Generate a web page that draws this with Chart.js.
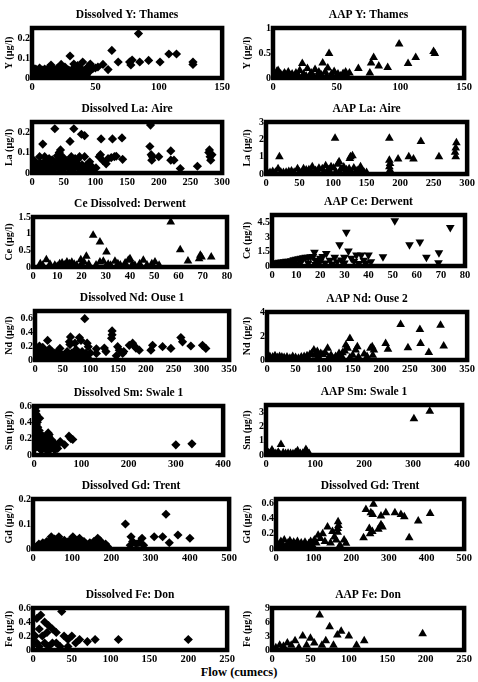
<!DOCTYPE html>
<html>
<head>
<meta charset="utf-8">
<script src="https://cdn.jsdelivr.net/npm/chart.js@4.4.0/dist/chart.umd.min.js"></script>
<style>
  body { margin: 0; background: #fff; width: 478px; height: 682px; position: relative; overflow: hidden; }
  canvas { position: absolute; }
  #flow { position: absolute; left: 0; width: 478px; top: 665px; text-align: center;
          font: bold 12.5px 'Liberation Serif', 'Times New Roman', serif; color: #000; }
</style>
</head>
<body>
<div id="flow">Flow (cumecs)</div>
<script>
const FONT = "'Liberation Serif', 'Times New Roman', serif";

// [flow, concentration] pairs
const disY = [[84,0.222],[30,0.11],[63,0.138],[108,0.12],[114,0.12],[92,0.088],[101,0.08],[77,0.08],[79,0.09],[78,0.065],[68,0.08],[85,0.08],[127,0.08],[127,0.068],[56,0.068],[60,0.042],[40,0.08],[44,0.055],[48,0.048],[36,0.062],[38,0.05],[15,0.065],[23,0.068],[33,0.07],[46,0.07],[26,0.055],
  [1,0.05],[2,0.03],[3,0.045],[4,0.02],[5,0.035],[6,0.05],[7,0.025],[8,0.04],[9,0.015],[10,0.045],[11,0.03],[12,0.02],[13,0.05],[14,0.035],[16,0.025],[17,0.045],[18,0.015],[19,0.035],[20,0.05],[21,0.025],[22,0.04],[24,0.02],[25,0.045],[27,0.03],[28,0.015],[29,0.04],[31,0.025],[32,0.045],[34,0.02],[35,0.035],[37,0.03],[39,0.045],[41,0.025],[42,0.04],[43,0.015],[45,0.03],[1,0.01],[3,0.005],[5,0.012],[8,0.008],[11,0.005],[15,0.01],[20,0.01],[25,0.008],[30,0.012],[35,0.01],[40,0.01],[2,0.02],[6,0.015],[50,0.05],[52,0.055]];
const aapY = [[99,0.68],[126,0.53],[127,0.49],[112,0.41],[106,0.29],[79,0.41],[77,0.3],[83,0.24],[90,0.21],[67,0.19],[76,0.1],[44,0.49],[39,0.3],[23,0.29],[27,0.19],[33,0.17],[43,0.2],[41,0.12],[57,0.12],[55,0.09],[51,0.08],[60,0.1],[36,0.12],[30,0.1],[21,0.15],[18,0.1],[15,0.08],[12,0.12],[9,0.1],[6,0.08],[3,0.13],[1,0.1],[24,0.08],[46,0.08],[48,0.13],
  [2,0.05],[5,0.03],[8,0.06],[11,0.04],[14,0.05],[17,0.03],[20,0.05],[26,0.04],[29,0.06],[32,0.03],[35,0.05],[38,0.06],[42,0.04],[45,0.03],[50,0.05],[53,0.04],[58,0.05],[4,0.15],[10,0.07]];
const disLa = [[187,0.235],[186,0.13],[188,0.09],[190,0.08],[189,0.063],[200,0.08],[219,0.108],[219,0.063],[224,0.063],[234,0.022],[261,0.033],[280,0.113],[281,0.08],[282,0.063],[284,0.09],[279,0.1],[36,0.217],[66,0.217],[60,0.155],[78,0.19],[83,0.183],[109,0.167],[127,0.167],[142,0.172],[17,0.142],[45,0.113],[43,0.1],[106,0.08],[108,0.09],[112,0.06],[117,0.045],[130,0.08],[133,0.082],[143,0.067],[75,0.08],[83,0.08],[91,0.055],[62,0.08],[12,0.08],[101,0.025],[20,0.08],[40,0.085],[48,0.08],[55,0.06],[68,0.07],[88,0.04],[95,0.03],[120,0.07],[125,0.075],
  [2,0.02],[5,0.04],[8,0.01],[10,0.03],[13,0.05],[15,0.02],[18,0.04],[21,0.06],[23,0.03],[25,0.01],[28,0.05],[30,0.03],[32,0.065],[35,0.02],[38,0.045],[41,0.03],[44,0.06],[46,0.015],[49,0.04],[52,0.025],[55,0.05],[58,0.035],[61,0.015],[64,0.045],[67,0.025],[70,0.05],[73,0.03],[76,0.015],[79,0.04],[82,0.02],[85,0.035],[90,0.015],[95,0.01],[4,0.06],[27,0.07],[36,0.055],[50,0.065],[60,0.06],[72,0.065]];
const aapLa = [[103,2.06],[184,2.06],[231,1.87],[20,1.0],[126,1.0],[125,0.9],[129,1.05],[213,1.0],[220,0.87],[197,0.87],[184,0.8],[185,0.6],[184,0.42],[185,0.23],[258,1.0],[284,1.8],[283,1.5],[282,1.25],[283,1.0],[60,0.23],[69,0.42],[79,0.33],[89,0.48],[97,0.42],[107,0.56],[109,0.7],[116,0.4],[124,0.3],[131,0.35],[141,0.42],[141,0.25],[18,0.3],[47,0.3],[38,0.18],[56,0.3],[64,0.25],[74,0.2],[84,0.3],[93,0.25],[101,0.35],[112,0.3],[120,0.25],[136,0.2],
  [2,0.1],[6,0.08],[10,0.15],[14,0.1],[22,0.12],[26,0.08],[30,0.1],[34,0.14],[42,0.1],[50,0.12],[54,0.08],[62,0.1],[68,0.12],[72,0.08],[78,0.1],[86,0.12],[90,0.08],[96,0.1],[104,0.12],[110,0.1],[118,0.12],[128,0.1],[134,0.12],[140,0.1],[146,0.12],[150,0.08]];
const disCe = [[56.8,1.35],[24.8,0.95],[27.6,0.75],[30.3,0.45],[60.7,0.52],[69,0.35],[69.5,0.3],[68.5,0.25],[73.5,0.3],[63.9,0.18],[22,0.32],[5.5,0.22],[19.7,0.22],[39.3,0.2],[40,0.25],[45.5,0.2],[50.3,0.15],[33.8,0.17],[27.6,0.15],[29,0.17],
  [3,0.1],[4,0.05],[7,0.08],[9,0.05],[11,0.1],[12,0.12],[13,0.06],[14,0.15],[15,0.1],[16,0.14],[17,0.08],[18,0.05],[20,0.1],[21,0.15],[23,0.08],[26,0.06],[31,0.08],[32,0.05],[35,0.1],[36,0.06],[38,0.12],[41,0.08],[42,0.05],[44,0.1],[47,0.06],[49,0.1],[52,0.05],[10,0.02],[30,0.02]];
const aapCe = [[50.9,4.7],[73.9,4.0],[30.8,3.5],[28,2.2],[57,2.2],[61.3,2.5],[69.2,1.38],[31.7,1.55],[35,1.14],[37,1.14],[40,1.14],[46,0.97],[64,0.9],[69,0.35],[17.6,1.42],[22.5,1.31],[28.7,0.62],[32.9,0.8],[41,0.45],[20,0.8],[24,0.6],[21,1.0],[26,0.9],[30,0.9],[34,0.5],[38,0.6],
  [1,0.3],[2,0.35],[3,0.4],[4,0.42],[5,0.45],[6,0.5],[7,0.5],[8,0.55],[9,0.65],[10,0.7],[11,0.75],[12,0.8],[13,0.85],[14,0.9],[15,0.9],[16,0.95],[17,1.0],[18,0.6],[19,0.4],[12,0.4],[8,0.2],[15,0.3],[22,0.3],[25,0.2],[27,0.45],[30,0.3],[36,0.25],[39,0.3],[5,0.15],[10,0.2],[18,0.15],[20,0.5]];
const disNd = [[89.7,0.59],[139,0.415],[139,0.36],[138,0.31],[22.7,0.28],[64,0.33],[62,0.26],[63,0.22],[80,0.32],[83,0.28],[72,0.24],[94,0.24],[96,0.19],[110.7,0.16],[110.7,0.094],[125,0.17],[128,0.12],[149,0.19],[152,0.14],[170,0.21],[176,0.24],[179,0.2],[182,0.17],[188,0.14],[209,0.14],[212,0.21],[230,0.19],[245,0.165],[263,0.32],[266,0.26],[281,0.2],[302,0.21],[308,0.165],[45,0.165],[146.6,0.06],[158,0.094],[160,0.12],[100,0.1],
  [2,0.05],[4,0.15],[6,0.1],[8,0.2],[10,0.05],[12,0.12],[14,0.18],[16,0.08],[18,0.14],[20,0.02],[24,0.1],[26,0.16],[28,0.06],[30,0.12],[33,0.02],[36,0.1],[39,0.05],[42,0.12],[48,0.08],[52,0.02],[55,0.06],[58,0.12],[62,0.05],[66,0.1],[70,0.04],[74,0.15],[78,0.08],[82,0.02],[85,0.12],[88,0.05],[92,0.1],[95,0.03],[5,0.02],[15,0.02],[30,0.03],[45,0.04],[60,0.02]];
const aapNd = [[233.7,2.95],[267.4,2.54],[303.5,2.9],[268.6,1.38],[309,1.16],[246.5,1.02],[283,0.63],[207.5,1.38],[211.6,0.9],[184,1.1],[181,0.97],[187,0.83],[185,0.4],[145,1.8],[138,1.24],[141,0.97],[136,0.74],[158,1.1],[155,0.83],[106,0.97],[82,0.83],[88,0.7],[94,0.55],[126,0.55],[132,0.6],[150,0.4],[112,0.4],[120,0.3],[170,0.5],
  [2,0.2],[5,0.3],[10,0.25],[14,0.35],[18,0.2],[22,0.3],[26,0.25],[30,0.2],[35,0.25],[40,0.15],[45,0.3],[50,0.2],[55,0.15],[60,0.25],[65,0.3],[70,0.35],[75,0.45],[78,0.55],[85,0.4],[90,0.3],[98,0.45],[102,0.6],[108,0.2],[115,0.15],[125,0.2],[130,0.35],[145,0.2],[160,0.25],[175,0.3]];
const disSm = [[300,0.124],[334,0.137],
  [3,0.58],[4,0.54],[5,0.5],[6,0.46],[4,0.42],[7,0.4],[5,0.37],[8,0.34],[3,0.31],[9,0.28],[6,0.25],[10,0.22],[4,0.2],[8,0.17],[12,0.45],[11,0.3],[2,0.14],[6,0.1],[10,0.12],[14,0.25],
  [30,0.27],[32,0.25],[31,0.23],[19,0.23],[26,0.19],[55.5,0.165],[64.7,0.124],[74,0.23],[78,0.2],[82,0.19],[47,0.1],[36.5,0.083],
  [15,0.15],[18,0.1],[20,0.18],[22,0.12],[24,0.08],[27,0.14],[29,0.1],[33,0.16],[35,0.12],[38,0.18],[40,0.1],[42,0.14],[44,0.06],[46,0.12],[50,0.08],[16,0.06],[12,0.08],[28,0.05],[34,0.07]];
const aapSm = [[334,3.07],[301.7,2.54],[30.5,0.74],[12.2,0.35],[64.4,0.3],[81.4,0.39],[84,0.2],[5,0.15],[8,0.1],[15,0.15],[20,0.1],[25,0.2],[35,0.15],[40,0.1],[45,0.12],[50,0.1],[55,0.08],[60,0.15],[70,0.1],[75,0.12],[88,0.1],[10,0.05],[28,0.05],[2,0.1]];
const disGd = [[339,0.139],[235.6,0.1],[250,0.049],[278,0.043],[309,0.049],[330.5,0.049],[369.5,0.056],[347.5,0.025],[400,0.043],[254,0.03],[263,0.02],[248,0.015],[270,0.025],[282,0.015],[46.6,0.049],[66,0.049],[101.7,0.049],[118.6,0.043],[165,0.043],[170,0.035],
  [10,0.01],[15,0.02],[20,0.015],[25,0.025],[30,0.01],[35,0.03],[40,0.02],[45,0.035],[50,0.015],[55,0.04],[60,0.025],[65,0.01],[70,0.03],[75,0.02],[80,0.035],[85,0.015],[90,0.03],[95,0.02],[100,0.04],[105,0.01],[110,0.03],[115,0.02],[120,0.035],[125,0.015],[130,0.03],[135,0.02],[140,0.01],[145,0.025],[150,0.015],[155,0.03],[160,0.02],[165,0.01],[175,0.025],[180,0.015],[185,0.02],[190,0.01]];
const aapGd = [[259,0.59],[239,0.52],[252,0.48],[257,0.456],[279,0.434],[292,0.478],[316,0.478],[332,0.456],[341,0.425],[378,0.368],[409.7,0.469],[354,0.149],[232.7,0.149],[248,0.27],[256,0.23],[250,0.2],[279,0.32],[283,0.29],[272,0.26],[165,0.36],[166,0.31],[164,0.27],[164,0.22],[181,0.12],[186,0.075],[137,0.29],[150,0.23],[155,0.16],[124,0.2],[112,0.18],[118,0.14],[130,0.1],[145,0.08],[160,0.12],[170,0.05],
  [3,0.02],[8,0.06],[13,0.1],[18,0.05],[22,0.12],[27,0.03],[32,0.08],[37,0.11],[42,0.04],[47,0.09],[52,0.06],[57,0.1],[62,0.03],[67,0.08],[72,0.05],[77,0.09],[82,0.04],[87,0.07],[92,0.1],[97,0.05],[102,0.12],[107,0.08],[15,0.02],[35,0.01],[55,0.02],[75,0.01],[95,0.02]];
const disFe = [[37,0.55],[5,0.45],[10,0.5],[15,0.4],[20,0.35],[8,0.3],[25,0.3],[30,0.25],[12,0.2],[18,0.25],[3,0.2],[40,0.2],[45,0.15],[50,0.2],[55,0.1],[60,0.15],[70,0.12],[80,0.15],[110,0.15],[200,0.15],[5,0.1],[15,0.1],[25,0.1],[35,0.05],[8,0.05],[20,0.05],[30,0.1],[45,0.05]];
const aapFe = [[62,7.5],[75,5],[85,3.2],[90,4],[100,3],[120,2],[196,3.5],[40,3],[30,2],[20,1.5],[10,1],[50,2.5],[5,0.5],[15,0.8],[25,1],[35,0.5],[45,1],[55,1.5],[65,1],[70,2],[80,1],[110,1]];

// tick labels
const ticks150 = [0, 50, 100, 150];
const ticks300 = [0, 50, 100, 150, 200, 250, 300];
const ticks80 = [0, 10, 20, 30, 40, 50, 60, 70, 80];
const ticks350 = [0, 50, 100, 150, 200, 250, 300, 350];
const ticks400 = [0, 100, 200, 300, 400];
const ticks500 = [0, 100, 200, 300, 400, 500];
const ticks250 = [0, 50, 100, 150, 200, 250];

const TITLE_H = 20;
const XAXIS_H = 16;
const PAD_R = 10;

// col = left edge of the panel column, box = [left, right, top, bottom] of the plot frame
const panels = [
  { title: 'Dissolved Y: Thames', yLabel: 'Y (µg/l)', pts: disY, shape: 'rectRot', xMax: 150, xTicks: ticks150, yMax: 0.25, yTicks: [0, 0.1, 0.2], col: 0, box: [32, 223, 28, 78] },
  { title: 'AAP Y: Thames', yLabel: 'Y (µg/l)', pts: aapY, shape: 'triangle', xMax: 150, xTicks: ticks150, yMax: 1, yTicks: [0, 0.5, 1], col: 238, box: [273, 465, 28, 78] },
  { title: 'Dissolved La: Aire', yLabel: 'La (µg/l)', pts: disLa, shape: 'rectRot', xMax: 300, xTicks: ticks300, yMax: 0.25, yTicks: [0, 0.1, 0.2], col: 0, box: [32, 223, 122, 173] },
  { title: 'AAP La: Aire', yLabel: 'La (µg/l)', pts: aapLa, shape: 'triangle', xMax: 300, xTicks: ticks300, yMax: 3, yTicks: [0, 1, 2, 3], col: 238, box: [266, 468, 122, 174] },
  { title: 'Ce Dissolved: Derwent', yLabel: 'Ce (µg/l)', pts: disCe, shape: 'triangle', xMax: 80, xTicks: ticks80, yMax: 1.5, yTicks: [0, 0.5, 1, 1.5], col: 0, box: [33, 227, 217, 267] },
  { title: 'AAP Ce: Derwent', yLabel: 'Ce (µg/l)', pts: aapCe, shape: 'triangle', rot: 180, xMax: 80, xTicks: ticks80, yMax: 5.3, yTicks: [0, 1.5, 3, 4.5], col: 238, box: [272, 465, 215, 266] },
  { title: 'Dissolved Nd: Ouse 1', yLabel: 'Nd (µg/l)', pts: disNd, shape: 'rectRot', xMax: 350, xTicks: ticks350, yMax: 0.7, yTicks: [0, 0.2, 0.4, 0.6], col: 0, box: [35, 230, 311, 360] },
  { title: 'AAP Nd: Ouse 2', yLabel: 'Nd (µg/l)', pts: aapNd, shape: 'triangle', xMax: 350, xTicks: ticks350, yMax: 4, yTicks: [0, 2, 4], col: 238, box: [267, 468, 312, 360] },
  { title: 'Dissolved Sm: Swale 1', yLabel: 'Sm (µg/l)', pts: disSm, shape: 'rectRot', xMax: 400, xTicks: ticks400, yMax: 0.6, yTicks: [0, 0.2, 0.4, 0.6], col: 0, box: [34, 224, 406, 455] },
  { title: 'AAP Sm: Swale 1', yLabel: 'Sm (µg/l)', pts: aapSm, shape: 'triangle', xMax: 400, xTicks: ticks400, yMax: 3.5, yTicks: [0, 1, 2, 3], col: 238, box: [266, 463, 405, 455] },
  { title: 'Dissolved Gd: Trent', yLabel: 'Gd (µg/l)', pts: disGd, shape: 'rectRot', xMax: 500, xTicks: ticks500, yMax: 0.2, yTicks: [0, 0.1, 0.2], col: 0, box: [33, 230, 499, 549] },
  { title: 'Dissolved Gd: Trent', yLabel: 'Gd (µg/l)', pts: aapGd, shape: 'triangle', xMax: 500, xTicks: ticks500, yMax: 0.66, yTicks: [0, 0.2, 0.4, 0.6], col: 238, box: [276, 465, 499, 549] },
  { title: 'Dissolved Fe: Don', yLabel: 'Fe (µg/l)', pts: disFe, shape: 'rectRot', xMax: 250, xTicks: ticks250, yMax: 0.6, yTicks: [0, 0.2, 0.4, 0.6], col: 0, box: [33, 228, 608, 650] },
  { title: 'AAP Fe: Don', yLabel: 'Fe (µg/l)', pts: aapFe, shape: 'triangle', xMax: 250, xTicks: ticks250, yMax: 9, yTicks: [0, 3, 6, 9], col: 238, box: [272, 465, 608, 650] }
];

const framePlugin = {
  id: 'frame',
  afterDatasetsDraw(chart) {
    const { ctx, chartArea: a } = chart;
    ctx.save();
    ctx.strokeStyle = '#000';
    ctx.lineWidth = 4.5;
    ctx.strokeRect(a.left, a.top, a.right - a.left, a.bottom - a.top);
    ctx.restore();
  }
};

const titlePlugin = {
  id: 'panelTitle',
  afterDraw(chart, args, opts) {
    const { ctx, chartArea: a } = chart;
    ctx.save();
    ctx.font = `bold 11.5px ${FONT}`;
    ctx.fillStyle = '#000';
    ctx.textAlign = 'center';
    ctx.textBaseline = 'middle';
    ctx.fillText(opts.text, (a.left + a.right) / 2, a.top - 13);
    ctx.restore();
  }
};

const plainLabel = (v) => String(v);

function makePanel(p) {
  const canvas = document.createElement('canvas');
  canvas.width = p.box[1] + PAD_R - p.col;
  canvas.height = TITLE_H + (p.box[3] - p.box[2]) + XAXIS_H;
  canvas.style.left = p.col + 'px';
  canvas.style.top = (p.box[2] - TITLE_H) + 'px';
  document.body.appendChild(canvas);

  new Chart(canvas, {
    type: 'scatter',
    data: {
      datasets: [{
        data: p.pts.map(([x, y]) => ({ x, y })),
        pointStyle: p.shape,
        rotation: p.rot || 0,
        pointRadius: p.shape === 'rectRot' ? 4.6 : 5,
        backgroundColor: '#000',
        borderColor: '#000',
        borderWidth: 0
      }]
    },
    options: {
      responsive: false,
      animation: false,
      devicePixelRatio: 1,
      layout: { padding: { top: TITLE_H, right: PAD_R, left: 0, bottom: 0 } },
      plugins: { legend: { display: false }, tooltip: { enabled: false }, panelTitle: { text: p.title } },
      scales: {
        x: {
          type: 'linear', min: 0, max: p.xMax,
          afterBuildTicks: (s) => { s.ticks = p.xTicks.map((v) => ({ value: v })); },
          afterFit: (s) => { s.height = XAXIS_H; },
          grid: { display: false, drawTicks: false },
          border: { display: false },
          ticks: { color: '#000', padding: 3, maxRotation: 0, autoSkip: false, callback: plainLabel, font: { family: FONT, size: 10.5, weight: 'bold' } }
        },
        y: {
          type: 'linear', min: 0, max: p.yMax,
          afterBuildTicks: (s) => { s.ticks = p.yTicks.map((v) => ({ value: v })); },
          afterFit: (s) => { s.width = p.box[0] - p.col; },
          grid: { display: false, drawTicks: false },
          border: { display: false },
          ticks: { color: '#000', padding: 2, autoSkip: false, callback: plainLabel, font: { family: FONT, size: 10, weight: 'bold' } },
          title: { display: true, text: p.yLabel, color: '#000', padding: { top: 3, bottom: 0 }, font: { family: FONT, size: 10, weight: 'bold' } }
        }
      }
    },
    plugins: [framePlugin, titlePlugin]
  });
}

panels.forEach(makePanel);
</script>
</body>
</html>
